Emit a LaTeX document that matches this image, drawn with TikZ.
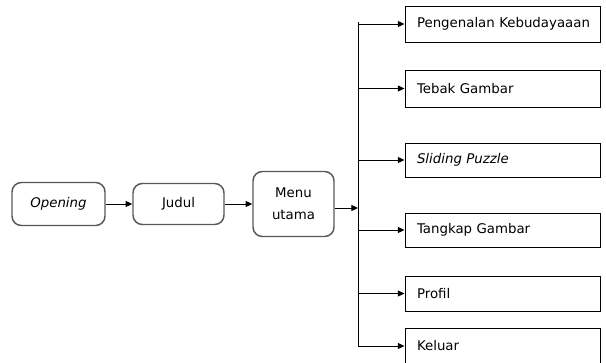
\documentclass[tikz,border=0pt]{standalone}
\usepackage{fontspec}
\setmainfont{DejaVu Sans}
\usetikzlibrary{arrows.meta}
\tikzset{
    softbox/.style={draw=black!65, line width=1.1pt, rounded corners=7pt, align=center,
        font=\fontsize{10}{16.5}\selectfont},
    menubox/.style={draw=black, line width=0.75pt, minimum height=#1, text width=137.25pt,
        inner xsep=4.5pt, inner ysep=0pt, align=left, font=\fontsize{10}{12}\selectfont,
        execute at begin node={\hspace*{4.5pt}}},
    flow/.style={line width=0.75pt, -{Triangle[length=5pt,width=4.5pt]}},
}

\begin{document}
\begin{tikzpicture}[x=0.75pt, y=-0.75pt]
    \newcommand\posL{502.5}
    \newcommand\posS{358}
    \useasboundingbox (0, 0) rectangle (606, 362);

    \node[softbox, minimum width=69.75pt, minimum height=32.25pt] (opening) at (58.5, 204){\textit{Opening}};
    \node[softbox, minimum width=68.25pt, minimum height=30.75pt] (judul) at (178.5, 204){Judul};
    \node[softbox, minimum width=60.75pt, minimum height=48.75pt] (menu) at (293.5, 204){Menu\\utama};

    \node[menubox=27pt] (kenal) at (\posL, 24){\mbox{Pengenalan Kebudayaaan}};
    \node[menubox=27.75pt] (tebak) at (\posL, 88.5){Tebak Gambar};
    \node[menubox=25.5pt] (puzzle) at (\posL, 160){\textit{Sliding Puzzle}};
    \node[menubox=25.5pt] (tangkap) at (\posL, 230){Tangkap Gambar};
    \node[menubox=26.25pt] (profil) at (\posL, 293.5){Profil};
    \node[menubox=27pt] (keluar) at (\posL, 346){Keluar};

    \coordinate (top) at (\posS, 22);
    \coordinate (bot) at (\posS, 346);
    \coordinate (mid) at (\posS, 208);

    \draw[flow] (opening) -- (judul);
    \draw[flow] (judul) -- (menu);
    \draw[flow] (menu.east |- mid) -- (mid);
    \draw[line width=0.75pt] (top) -- (bot);
    \foreach \n in {kenal, tebak, puzzle, tangkap, profil, keluar}
        \draw[flow] (top |- \n.west) -- (\n.west);
\end{tikzpicture}
\end{document}
